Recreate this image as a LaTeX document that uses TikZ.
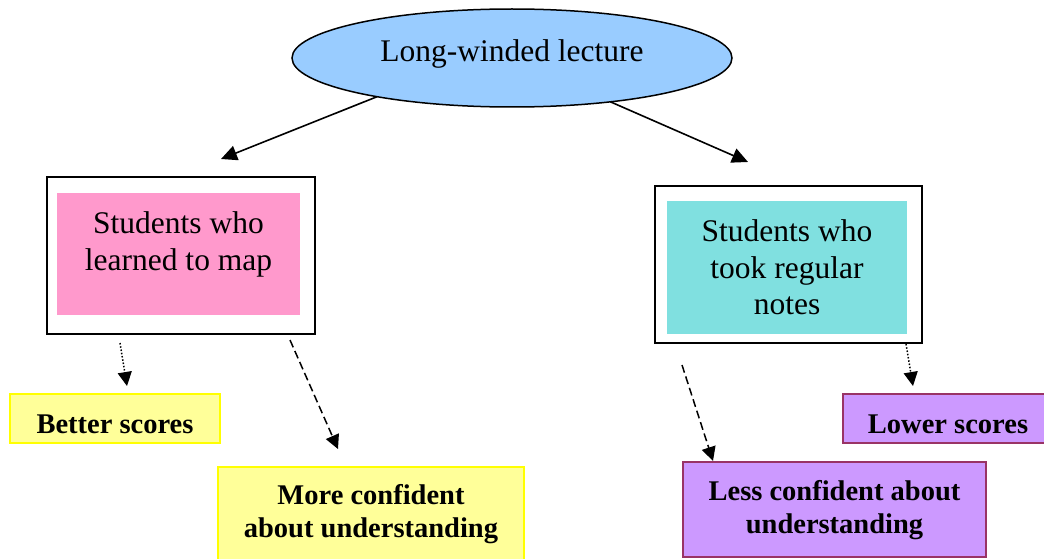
\documentclass[tikz,border=0pt]{standalone}
\usepackage{fontspec}
\setmainfont{Liberation Serif}
\usetikzlibrary{arrows.meta,shapes.geometric}
\definecolor{lectureblue}{RGB}{153,204,255}
\definecolor{mappink}{RGB}{255,153,204}
\definecolor{notesteal}{RGB}{128,224,224}
\definecolor{gainyellow}{RGB}{255,255,153}
\definecolor{gainyellowline}{RGB}{255,255,0}
\definecolor{losspurple}{RGB}{204,153,255}
\definecolor{losspurpleline}{RGB}{153,51,102}

\begin{document}
\begin{tikzpicture}[x=1pt, y=-1pt,
  plaintext/.style = {font=\fontsize{31.5}{36.5}\selectfont, align=center},
  panel/.style = {plaintext, inner sep=0pt, outer sep=0pt},
  frame/.style = {draw, line width=2pt, inner sep=0pt, outer sep=0pt},
  outcome/.style = {font=\fontsize{28.5}{33}\selectfont\bfseries, align=center,
    line width=1.5pt, inner sep=0pt, outer sep=0pt},
  gain/.style = {outcome, draw=gainyellowline, fill=gainyellow},
  loss/.style = {outcome, draw=losspurpleline, fill=losspurple},
  lead/.style = {line width=1.6pt, -{Triangle[length=16pt,width=15pt]}},
  weak/.style = {line width=1.5pt, dash pattern=on 1.5pt off 1.8pt,
    -{Triangle[length=14pt,width=14pt]}},
  strong/.style = {line width=1.5pt, dash pattern=on 8pt off 4pt,
    -{Triangle[length=14pt,width=14pt]}}]
  \useasboundingbox (0,0) rectangle (1044,559);

  \node (lecture) [ellipse, draw, line width=1.5pt, fill=lectureblue, plaintext,
    minimum width=440pt, minimum height=98pt, inner sep=0pt, outer sep=0pt,
    text depth=14pt] at (512,58) {Long-winded lecture};

  \node (mapframe) [frame, minimum width=268pt, minimum height=157pt] at (181,255.5) {};
  \node (mappanel) [panel, fill=mappink, minimum width=243pt, minimum height=122pt,
    text depth=26pt] at (178.5,254) {Students who\\learned to map};

  \node (notesframe) [frame, minimum width=267pt, minimum height=157pt] at (788.5,264.5) {};
  \node (notespanel) [panel, fill=notesteal, minimum width=240pt, minimum height=133pt]
    at (787,267.5) {Students who\\took regular\\notes};

  \node (better) [gain, minimum width=210pt, minimum height=49pt,
    text height=29pt, text depth=0pt] at (115,418.5) {Better scores};
  \node (moresure) [gain, minimum width=306pt, minimum height=100pt,
    text depth=12pt] at (371,517) {More confident\\about understanding};
  \node (lower) [loss, minimum width=210pt, minimum height=49pt,
    text height=29pt, text depth=0pt] at (948,418.5) {Lower scores};
  \node (lesssure) [loss, minimum width=303pt, minimum height=95pt,
    text depth=6pt] at (834.5,509.5) {Less confident about\\understanding};

  \coordinate (mapend) at (221,159);
  \coordinate (notesend) at (748,162);
  \coordinate (betterstart) at (120,343);
  \coordinate (betterend) at (127,386);
  \coordinate (moresurestart) at (290,340);
  \coordinate (moresureend) at (338,449);
  \coordinate (lowerstart) at (906,344);
  \coordinate (lowerend) at (913,386);
  \coordinate (lesssurestart) at (682,365);
  \coordinate (lesssureend) at (713,461);

  \draw [lead] (lecture.196) -- (mapend);
  \draw [lead] (lecture.-24) -- (notesend);
  \draw [weak] (betterstart) -- (betterend);
  \draw [strong] (moresurestart) -- (moresureend);
  \draw [weak] (lowerstart) -- (lowerend);
  \draw [strong] (lesssurestart) -- (lesssureend);
\end{tikzpicture}
\end{document}
